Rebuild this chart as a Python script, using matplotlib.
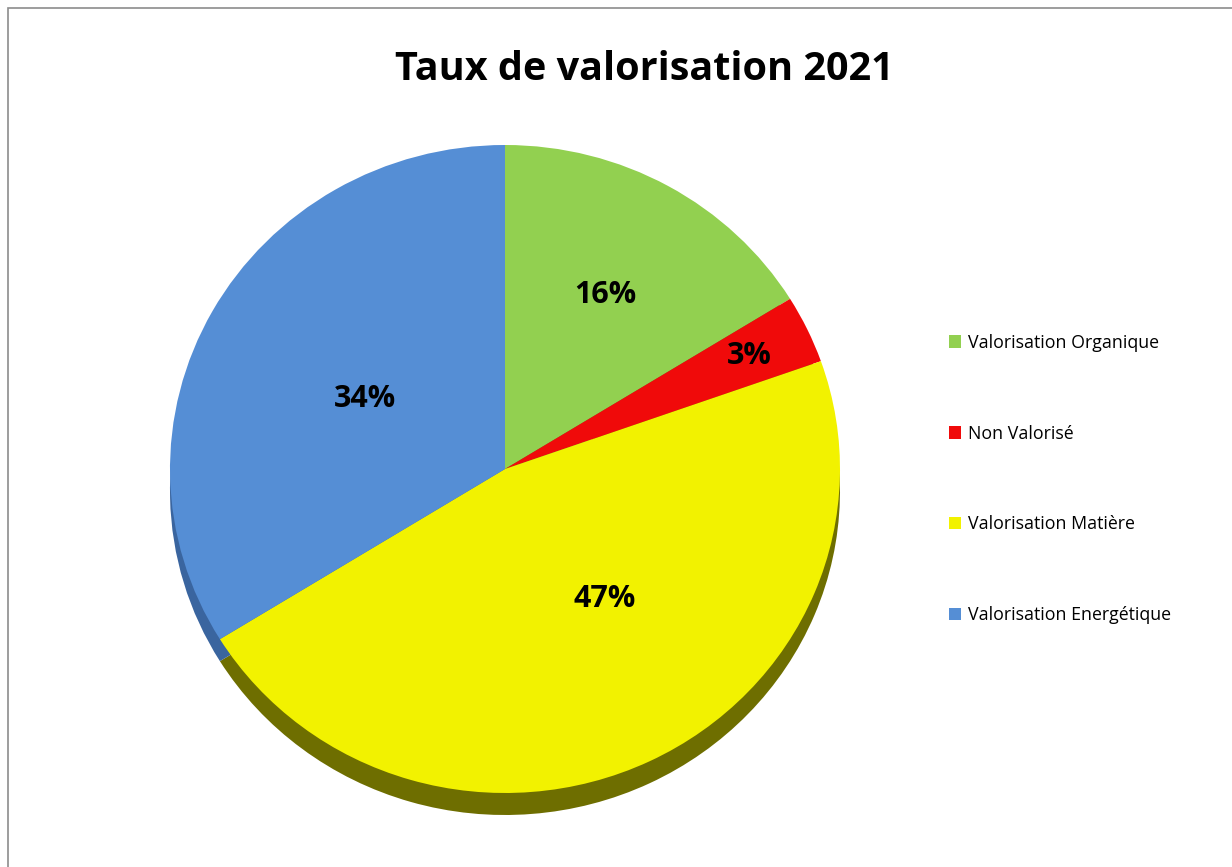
import numpy as np
import matplotlib.pyplot as plt
from matplotlib.patches import Rectangle

# donnees
categories = ["Valorisation Organique", "Non Valorisé", "Valorisation Matière", "Valorisation Energétique"]
valeurs = [16.2, 3.4, 46.6, 33.8]
couleurs = ["#92D050", "#F00A0A", "#F2F200", "#558ED5"]
couleurs_cote = ["#5F8A30", "#9A0606", "#6E6E00", "#3A659F"]

plt.rcParams['font.family'] = ['Open Sans', 'DejaVu Sans']

W, H = 1232, 867
fig = plt.figure(figsize=(W / 100, H / 100), dpi=100)

# cadre gris
fig.patches.append(Rectangle((8 / W, -0.1), 1.2, 1 - 8 / H + 0.1, transform=fig.transFigure,
                             fill=False, edgecolor="#8c8c8c", lw=1.2))

# axe du camembert (legerement ecrase comme Excel)
x0, x1, ytop, ybot = 170, 840, 145, 815
ax = fig.add_axes([x0 / W, 1 - ybot / H, (x1 - x0) / W, (ybot - ytop) / H])
ry = 324.0
prof = 22 / ry

# epaisseur (3D)
ax.pie(valeurs, colors=couleurs_cote, startangle=90, counterclock=False,
       center=(0, -prof), radius=1, wedgeprops=dict(linewidth=0))
wedges, _ = ax.pie(valeurs, colors=couleurs, startangle=90, counterclock=False,
                   radius=1, wedgeprops=dict(linewidth=0))

ax.set_aspect('auto')
ax.set_xlim(-1, 1)
ax.set_ylim(-1 - (ybot - ytop - 2 * ry) / ry, 1)
ax.axis('off')

# etiquettes
label_r = [0.615, 0.81, 0.5, 0.47]
decal = [0, 0, 11, 2]
for w, v, r, d in zip(wedges, valeurs, label_r, decal):
    a = np.deg2rad((w.theta1 + w.theta2) / 2 + d)
    ax.text(r * np.cos(a), r * np.sin(a), f"{v:.0f}%", ha='center', va='center',
            fontsize=22, fontweight='bold', color='black')

fig.text(644 / W, 1 - 70 / H, "Taux de valorisation 2021", ha='center', va='center',
         fontsize=28.5, fontweight='bold')

leg = fig.legend(wedges, categories, loc='center left', bbox_to_anchor=(940 / W, 1 - 479 / H),
                 frameon=False, fontsize=12.8, handlelength=0.7, handleheight=0.7,
                 handletextpad=0.35, labelspacing=4.1, borderpad=0)

fig.savefig("out.png", dpi=100)
